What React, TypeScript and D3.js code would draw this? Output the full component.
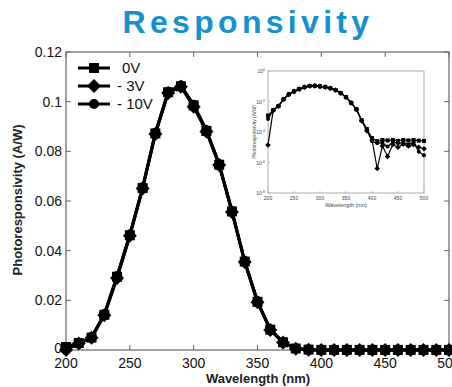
import React from "react";
import * as d3 from "d3";

const wavelengths = [200,210,220,230,240,250,260,270,280,290,300,310,320,330,340,350,360,370,380,390,400,410,420,430,440,450,460,470,480,490,500];
const resp0V = [0.0012,0.0028,0.005,0.0142,0.0295,0.0462,0.0652,0.0872,0.1038,0.1062,0.0985,0.0882,0.0746,0.0558,0.0356,0.0194,0.0082,0.0031,0.0006,0.00016,0.00004,0.000025,0.00003,0.000028,0.00003,0.000026,0.00003,0.000028,0.00003,0.000027,0.000026];
const resp3V = [0.000014,0.0026,0.0049,0.014,0.029,0.046,0.065,0.087,0.1035,0.106,0.098,0.088,0.0745,0.0556,0.0354,0.0192,0.0081,0.003,0.00055,0.00012,0.00003,0.0000004,0.000012,0.0000025,0.000015,0.00001,0.000016,0.000012,0.000015,0.00001,0.000008];
const resp10V = [0.0007,0.0027,0.0051,0.0144,0.0298,0.0465,0.0655,0.0875,0.104,0.1065,0.0988,0.0885,0.0748,0.056,0.0358,0.0196,0.0083,0.0032,0.0006,0.00014,0.000025,0.000018,0.00002,0.000011,0.000022,0.000018,0.00002,0.000016,0.000021,0.000005,0.000003];
const seriesNames = ["0V", "- 3V", "- 10V"];
const seriesValues = [resp0V, resp3V, resp10V];
const markerTypes = ["square", "diamond", "circle"];
const yTicks = [0, 0.02, 0.04, 0.06, 0.08, 0.1, 0.12];
const xTicks = [200, 250, 300, 350, 400, 450, 500];
const insetYTicks = [1e0, 1e-2, 1e-4, 1e-6, 1e-8];
const insetYExp = ["0", "-2", "-4", "-6", "-8"];

const FONT = "Arial, 'Liberation Sans', sans-serif";

function Marker({ type, x, y, s }: { type: string; x: number; y: number; s: number }) {
  if (type === "square") return <rect x={x - s / 2} y={y - s / 2} width={s} height={s} fill="#000" />;
  if (type === "diamond") {
    const r = s * 0.7;
    return <path d={`M${x},${y - r}L${x + r},${y}L${x},${y + r}L${x - r},${y}Z`} fill="#000" />;
  }
  return <circle cx={x} cy={y} r={s / 2} fill="#000" />;
}

export default function App() {
  const W = 452, H = 387;
  const x = d3.scaleLinear().domain([200, 500]).range([66, 449]);
  const y = d3.scaleLinear().domain([0, 0.12]).range([350, 52]);
  const line = d3.line<number>().x((_, i) => x(wavelengths[i])).y((d) => y(d));

  const ix = d3.scaleLinear().domain([200, 500]).range([268, 424]);
  const iy = d3.scaleLog().domain([1e-8, 1]).range([193, 71]);
  const iline = d3.line<number>().x((_, i) => ix(wavelengths[i])).y((d) => iy(d));

  const axisColor = "#666";
  const tl = 5;

  return (
    <svg width={W} height={H} style={{ position: "absolute", left: 0, top: 0, background: "#fff" }} fontFamily={FONT}>
      <rect width={W} height={H} fill="#fff" />
      <text x={248} y={33} textAnchor="middle" fontSize={32} fontWeight="bold" fill="#1690d0" letterSpacing={4.3}>Responsivity</text>

      {/* main frame */}
      <rect x={66} y={52} width={383} height={298} fill="none" stroke={axisColor} strokeWidth={1.2} />
      {xTicks.map((t) => (
        <g key={"xt" + t}>
          <line x1={x(t)} x2={x(t)} y1={350} y2={350 - tl} stroke={axisColor} />
          <line x1={x(t)} x2={x(t)} y1={52} y2={52 + tl} stroke={axisColor} />
          <text x={x(t)} y={368} textAnchor="middle" fontSize={14} fill="#111">{t}</text>
        </g>
      ))}
      {yTicks.map((t) => (
        <g key={"yt" + t}>
          <line x1={66} x2={66 + tl} y1={y(t)} y2={y(t)} stroke={axisColor} />
          <line x1={449} x2={449 - tl} y1={y(t)} y2={y(t)} stroke={axisColor} />
          <text x={62} y={y(t) + (t === 0 ? 3 : 5)} textAnchor="end" fontSize={14} fill="#111">{t}</text>
        </g>
      ))}
      <text x={258} y={383} textAnchor="middle" fontSize={13} fontWeight="bold" fill="#222">Wavelength (nm)</text>
      <text transform={`translate(22,200) rotate(-90)`} textAnchor="middle" fontSize={13} fontWeight="bold" fill="#222">Photoresponsivity (A/W)</text>

      {/* main series */}
      {seriesValues.map((vals, si) => (
        <g key={"s" + si}>
          <path d={line(vals) || ""} fill="none" stroke="#000" strokeWidth={3} />
          {vals.map((v, i) => (
            <Marker key={i} type={markerTypes[si]} x={x(wavelengths[i])} y={y(v)} s={10} />
          ))}
        </g>
      ))}

      {/* legend */}
      {seriesNames.map((n, i) => {
        const ly = 68 + i * 18;
        return (
          <g key={"lg" + i}>
            <line x1={78} x2={110} y1={ly} y2={ly} stroke="#000" strokeWidth={3} />
            <Marker type={markerTypes[i]} x={94} y={ly} s={10} />
            <text x={i === 0 ? 122 : 117} y={ly + 5} fontSize={15} fill="#111">{n}</text>
          </g>
        );
      })}

      {/* inset */}
      <rect x={268} y={71} width={156} height={122} fill="#fff" stroke="#999" strokeWidth={0.8} />
      {xTicks.map((t) => (
        <g key={"ixt" + t}>
          <line x1={ix(t)} x2={ix(t)} y1={193} y2={191} stroke="#999" strokeWidth={0.6} />
          <text x={ix(t)} y={200} textAnchor="middle" fontSize={5} fill="#444">{t}</text>
        </g>
      ))}
      {insetYTicks.map((t, i) => (
        <g key={"iyt" + i}>
          <line x1={268} x2={270} y1={iy(t)} y2={iy(t)} stroke="#999" strokeWidth={0.6} />
          <text x={265} y={iy(t) + 2} textAnchor="end" fontSize={5} fill="#444">
            10<tspan dy={-2} fontSize={3.5}>{insetYExp[i]}</tspan>
          </text>
        </g>
      ))}
      <text x={346} y={207} textAnchor="middle" fontSize={5.5} fill="#444">Wavelength (nm)</text>
      <text transform={`translate(256,132) rotate(-90)`} textAnchor="middle" fontSize={5} fill="#444">Photoresponsivity (A/W)</text>
      {seriesValues.map((vals, si) => (
        <g key={"is" + si}>
          <path d={iline(vals) || ""} fill="none" stroke="#000" strokeWidth={1.2} />
          {vals.map((v, i) => (
            <Marker key={i} type={markerTypes[si]} x={ix(wavelengths[i])} y={iy(v)} s={4} />
          ))}
        </g>
      ))}
    </svg>
  );
}
